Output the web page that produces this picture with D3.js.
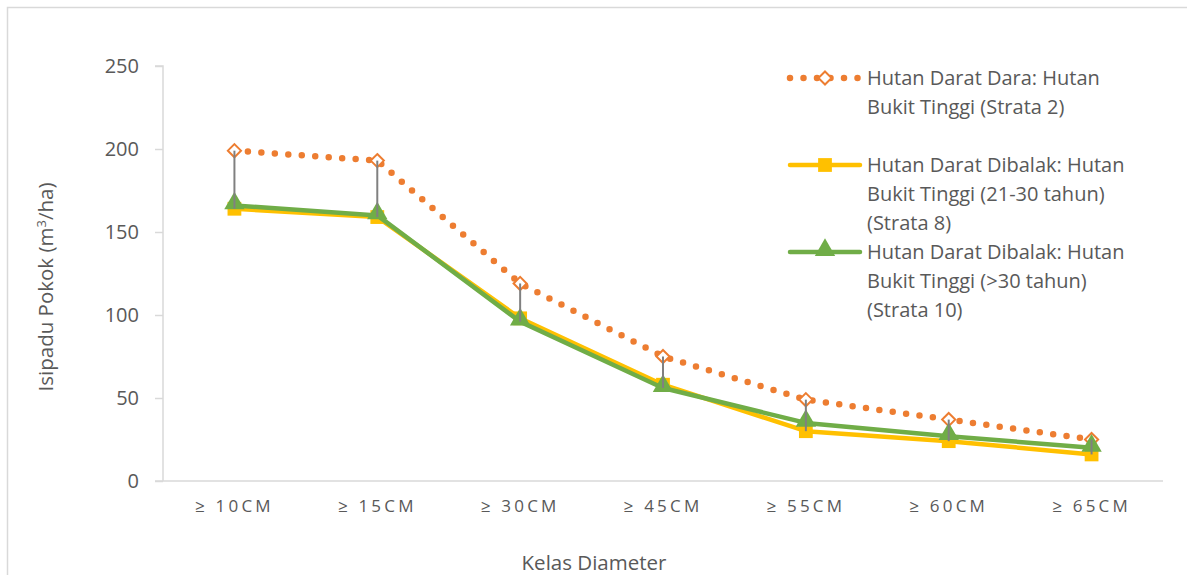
<!DOCTYPE html>
<html>
<head>
<meta charset="utf-8">
<script src="https://cdn.jsdelivr.net/npm/d3@7"></script>
<style>
  html, body { margin: 0; padding: 0; background: #fff; }
  svg { display: block; }
  text { font-family: "Open Sans", "Noto Sans", sans-serif; fill: #595959; }
</style>
</head>
<body>
<svg id="chart" width="1187" height="575"></svg>
<script>
// Diameter classes along the x axis
const categories = ["≥ 10CM", "≥ 15CM", "≥ 30CM", "≥ 45CM", "≥ 55CM", "≥ 60CM", "≥ 65CM"];

// Stem volume (m³/ha) per diameter class
const strata2Values  = [199, 193, 119, 75, 49, 37, 25];
const strata8Values  = [164, 159, 98, 58, 30, 24, 16];
const strata10Values = [166, 160, 96, 56, 35, 27, 20];

const yTicks = [0, 50, 100, 150, 200, 250];

const seriesNames = [
  ["Hutan Darat Dara: Hutan", "Bukit Tinggi (Strata 2)"],
  ["Hutan Darat Dibalak: Hutan", "Bukit Tinggi (21-30 tahun)", "(Strata 8)"],
  ["Hutan Darat Dibalak: Hutan", "Bukit Tinggi (>30 tahun)", "(Strata 10)"]
];

const colors = { orange: "#ED7D31", yellow: "#FFC000", green: "#70AD47", gray: "#808080", axis: "#D9D9D9" };

const svg = d3.select("#chart");

// chart frame
svg.append("rect")
  .attr("x", 7.5).attr("y", 7.5)
  .attr("width", 1200).attr("height", 600)
  .attr("fill", "none").attr("stroke", colors.axis).attr("stroke-width", 1.5);

const plot = { left: 163, right: 1163, top: 66, bottom: 481 };

const x = d3.scaleBand().domain(categories).range([plot.left, plot.right]);
const y = d3.scaleLinear().domain([0, 250]).range([plot.bottom, plot.top]);
const cx = c => x(c) + x.bandwidth() / 2;

// y axis
const yAxis = svg.append("g")
  .attr("transform", `translate(${plot.left},0)`)
  .call(d3.axisLeft(y).tickValues(yTicks).tickSize(8).tickPadding(16));
yAxis.select(".domain").attr("stroke", colors.axis).attr("stroke-width", 1.5)
  .attr("d", `M-8,${y(250)}H0V${y(0)}`);
yAxis.selectAll(".tick line").attr("stroke", colors.axis).attr("stroke-width", 1.5);
yAxis.selectAll(".tick text")
  .style("font-family", '"Open Sans", sans-serif')
  .style("font-size", "20px").attr("fill", "#595959");

// x axis
const xAxis = svg.append("g")
  .attr("transform", `translate(0,${plot.bottom})`)
  .call(d3.axisBottom(x).tickSize(0).tickPadding(19));
xAxis.select(".domain").attr("stroke", colors.axis).attr("stroke-width", 1.5)
  .attr("d", `M${plot.left - 8},0H${plot.right}`);
xAxis.selectAll(".tick text")
  .style("font-family", '"Open Sans", sans-serif')
  .style("font-size", "17px").style("letter-spacing", "3.2px").attr("fill", "#595959");

// axis titles
svg.append("text")
  .attr("transform", `translate(53,287) rotate(-90)`)
  .attr("text-anchor", "middle")
  .style("font-size", "20.5px")
  .html('Isipadu Pokok (m<tspan dy="-7" font-size="13px">3</tspan><tspan dy="7">/ha)</tspan>');

svg.append("text")
  .attr("x", 594).attr("y", 570)
  .attr("text-anchor", "middle")
  .style("font-size", "20.5px")
  .text("Kelas Diameter");

const line = d3.line().x((d, i) => cx(categories[i])).y(d => y(d));

// Strata 2: dotted line with hollow diamonds
svg.append("path").datum(strata2Values)
  .attr("d", line).attr("fill", "none")
  .attr("stroke", colors.orange).attr("stroke-width", 6.5)
  .attr("stroke-linecap", "round").attr("stroke-dasharray", "0 13.5");

const diamond = d3.symbol().type(d3.symbolDiamond2).size(110);
const square = d3.symbol().type(d3.symbolSquare).size(190);
const triangle = d3.symbol().type(d3.symbolTriangle).size(180);

svg.append("g").selectAll("path").data(strata2Values).join("path")
  .attr("transform", (d, i) => `translate(${cx(categories[i])},${y(d)})`)
  .attr("d", diamond).attr("fill", "#fff")
  .attr("stroke", colors.orange).attr("stroke-width", 2);

// Strata 8: yellow line with squares
svg.append("path").datum(strata8Values)
  .attr("d", line).attr("fill", "none")
  .attr("stroke", colors.yellow).attr("stroke-width", 4.5).attr("stroke-linejoin", "round");
svg.append("g").selectAll("path").data(strata8Values).join("path")
  .attr("transform", (d, i) => `translate(${cx(categories[i])},${y(d)})`)
  .attr("d", square).attr("fill", colors.yellow);

// Strata 10: green line with triangles
svg.append("path").datum(strata10Values)
  .attr("d", line).attr("fill", "none")
  .attr("stroke", colors.green).attr("stroke-width", 4.5).attr("stroke-linejoin", "round");
svg.append("g").selectAll("path").data(strata10Values).join("path")
  .attr("transform", (d, i) => `translate(${cx(categories[i])},${y(d) - 2})`)
  .attr("d", triangle).attr("fill", colors.green);

// high-low lines
svg.append("g").selectAll("line").data(categories).join("line")
  .attr("x1", c => cx(c)).attr("x2", c => cx(c))
  .attr("y1", (c, i) => y(Math.max(strata2Values[i], strata8Values[i], strata10Values[i])))
  .attr("y2", (c, i) => y(Math.min(strata2Values[i], strata8Values[i], strata10Values[i])))
  .attr("stroke", colors.gray).attr("stroke-width", 2);

// legend
const legend = svg.append("g");
const legendRows = [
  { y: 78, names: seriesNames[0], kind: "dot" },
  { y: 165, names: seriesNames[1], kind: "square" },
  { y: 252, names: seriesNames[2], kind: "triangle" }
];
legendRows.forEach(r => {
  const g = legend.append("g");
  if (r.kind === "dot") {
    g.append("line").attr("x1", 790).attr("x2", 862).attr("y1", r.y).attr("y2", r.y)
      .attr("stroke", colors.orange).attr("stroke-width", 6.5)
      .attr("stroke-linecap", "round").attr("stroke-dasharray", "0 13.5");
    g.append("path").attr("transform", `translate(825,${r.y})`).attr("d", diamond)
      .attr("fill", "#fff").attr("stroke", colors.orange).attr("stroke-width", 2);
  } else if (r.kind === "square") {
    g.append("line").attr("x1", 790).attr("x2", 860).attr("y1", r.y).attr("y2", r.y)
      .attr("stroke", colors.yellow).attr("stroke-width", 4.5).attr("stroke-linecap", "round");
    g.append("path").attr("transform", `translate(825,${r.y})`).attr("d", square).attr("fill", colors.yellow);
  } else {
    g.append("line").attr("x1", 790).attr("x2", 860).attr("y1", r.y).attr("y2", r.y)
      .attr("stroke", colors.green).attr("stroke-width", 4.5).attr("stroke-linecap", "round");
    g.append("path").attr("transform", `translate(825,${r.y - 2})`).attr("d", triangle).attr("fill", colors.green);
  }
  r.names.forEach((t, k) => {
    g.append("text").attr("x", 867).attr("y", r.y + 7 + k * 29)
      .style("font-size", "20px").text(t);
  });
});
</script>
</body>
</html>
